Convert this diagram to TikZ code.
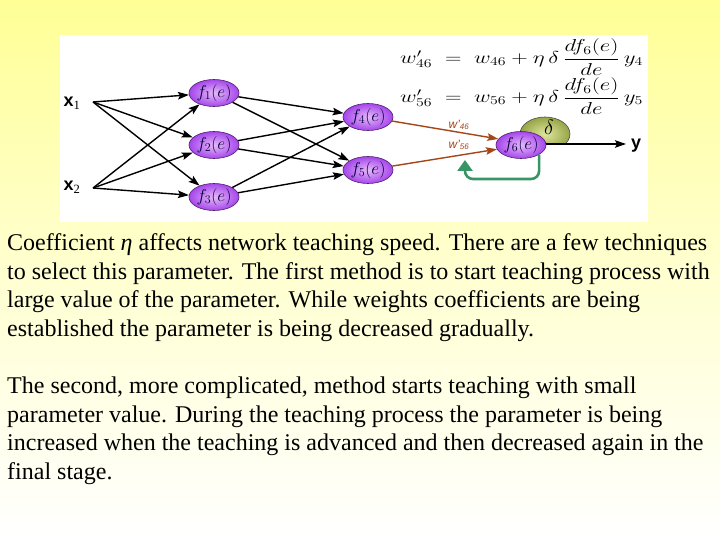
\documentclass[tikz,border=0pt]{standalone}
\usepackage{amsmath}
\usepackage{fontspec}
\setmainfont{Liberation Serif}
\setsansfont{Liberation Sans}
\usetikzlibrary{arrows.meta,shapes.geometric,calc}
\definecolor{bgyellow}{RGB}{255,255,150}
\definecolor{nodeouter}{RGB}{165,70,235}
\definecolor{nodeinner}{RGB}{230,185,250}
\definecolor{nodeedge}{RGB}{80,30,110}
\definecolor{deltaouter}{RGB}{150,165,70}
\definecolor{deltainner}{RGB}{225,230,160}
\definecolor{brownarrow}{RGB}{165,70,25}
\definecolor{fbgreen}{RGB}{55,150,100}
\tikzset{
  neuron/.style={ellipse, draw=nodeedge, line width=0.6pt, inner color=nodeinner, outer color=nodeouter,
    minimum width=50pt, minimum height=27pt, inner sep=0pt, font=\fontsize{17}{19}\selectfont, text=black!80!blue},
  deltanode/.style={ellipse, draw=black!70, line width=0.6pt, inner color=deltainner, outer color=deltaouter,
    minimum width=50pt, minimum height=34pt, inner sep=0pt},
  inlabel/.style={font=\sffamily\bfseries\fontsize{18}{20}\selectfont, inner sep=0pt},
  conn/.style={line width=1.4pt, draw=black, -{Stealth[length=11pt,width=7.5pt,inset=2pt]}},
  wconn/.style={line width=1.4pt, draw=brownarrow, -{Stealth[length=11pt,width=7.5pt,inset=2pt]}},
  wlabel/.style={font=\sffamily\itshape\fontsize{12}{13}\selectfont, text=brownarrow, inner sep=0pt},
  fbline/.style={line width=2.6pt, draw=fbgreen, rounded corners=8pt, -{Triangle[length=11pt,width=15pt]}},
  formula/.style={anchor=west, inner sep=0pt, font=\fontsize{18}{21}\selectfont},
  bodytext/.style={anchor=base west, inner sep=0pt, font=\fontsize{24}{28}\selectfont}
}
\begin{document}
\begin{tikzpicture}[x=1pt,y=-1pt]
\useasboundingbox (0,0) rectangle (720,540);
\shade[top color=bgyellow, bottom color=white, middle color=bgyellow!45!white] (0,0) rectangle (720,540);
\fill[white] (60,35) rectangle (648,222);

% inputs
\node[inlabel] (x1) at (72,103) {x\textsubscript{\normalfont 1}};
\node[inlabel] (x2) at (72,187) {x\textsubscript{\normalfont 2}};
\coordinate (s1) at (93,102);
\coordinate (s2) at (93,188);

% neurons
\node[neuron] (f1) at (214,93) {$f_1(e)$};
\node[neuron] (f2) at (214,145) {$f_2(e)$};
\node[neuron] (f3) at (214,197) {$f_3(e)$};
\node[neuron] (f4) at (368,117) {$f_4(e)$};
\node[neuron] (f5) at (368,170) {$f_5(e)$};
\begin{scope}
\clip (500,100) rectangle (590,144);
\node[deltanode] (dl) at (545,134) {};
\end{scope}
\node[font=\fontsize{20}{22}\selectfont, inner sep=0pt] (dlt) at (549,127) {$\delta$};
\coordinate (ytip) at (626,144);
\coordinate (ystart) at (540,144);
\draw[conn] (ystart) -- (ytip);
\node[neuron] (f6) at (521,145) {$f_6(e)$};
\node[inlabel] (ylab) at (636,146) {y};

% connections layer 1
\foreach \s in {s1,s2}
  \foreach \t in {f1,f2,f3}
    \draw[conn] (\s) -- (\t);
% connections layer 2
\foreach \s in {f1,f2,f3}
  \foreach \t in {f4,f5}
    \draw[conn] (\s) -- (\t);

% weighted connections
\draw[wconn] (f4) -- (f6.165);
\draw[wconn] (f5) -- (f6.190);
\node[wlabel] (w46) at (459,125) {w'\textsubscript{46}};
\node[wlabel] (w56) at (459,145) {w'\textsubscript{56}};

% feedback
\coordinate (fbcorner) at (465,179);
\coordinate (fbend) at (465,160);
\draw[fbline] (f6.-28) |- (fbcorner) -- (fbend);

% formulas
\node[formula] (eq1) at (400,57) {\scalebox{1.32}[1]{$w'_{46} \;=\; w_{46} + \eta\,\delta\,\dfrac{df_6(e)}{de}\,y_4$}};
\node[formula] (eq2) at (400,96) {\scalebox{1.32}[1]{$w'_{56} \;=\; w_{56} + \eta\,\delta\,\dfrac{df_6(e)}{de}\,y_5$}};

% body text
\node[bodytext] (t1) at (7,250) {Coefficient {\itshape η} affects network teaching speed. There are a few techniques};
\node[bodytext] (t2) at (7,279) {to select this parameter. The first method is to start teaching process with};
\node[bodytext] (t3) at (7,307) {large value of the parameter. While weights coefficients are being};
\node[bodytext] (t4) at (7,336) {established the parameter is being decreased gradually.};
\node[bodytext] (t5) at (7,393) {The second, more complicated, method starts teaching with small};
\node[bodytext] (t6) at (7,422) {parameter value. During the teaching process the parameter is being};
\node[bodytext] (t7) at (7,450) {increased when the teaching is advanced and then decreased again in the};
\node[bodytext] (t8) at (7,479) {final stage.};
\end{tikzpicture}
\end{document}
